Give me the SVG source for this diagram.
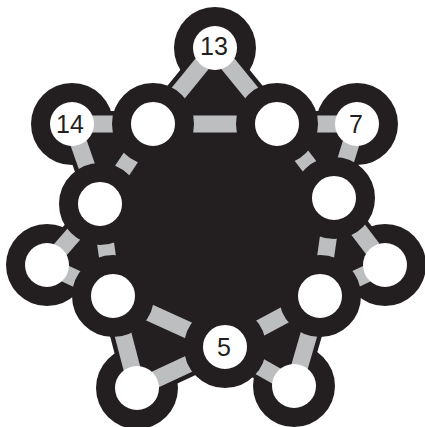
<svg xmlns="http://www.w3.org/2000/svg" width="425" height="427" viewBox="0 0 425 427">
<style>
.body{fill:#231f20;stroke:#231f20;stroke-width:26;stroke-linejoin:round}
.halo{fill:#231f20}
.edge{stroke:#bcbec0;stroke-width:17;fill:none}
.inner{fill:#ffffff;stroke:#231f20;stroke-width:19}
.face{fill:#ffffff}
.lbl{font-family:"Liberation Sans",Arial,sans-serif;font-size:25px;fill:#231f20;text-anchor:middle}
</style>
<rect width="425" height="427" fill="#ffffff"/>
<g id="backdrop">
<polygon class="body" points="215,48 277,124 357,124 334,198 385,265 320,296 294,386 225,347 137,388 113,296 47,265 100,204 72,124 153,124"/>
<circle class="halo" cx="215" cy="48" r="41"/>
<circle class="halo" cx="72" cy="124" r="41"/>
<circle class="halo" cx="357" cy="124" r="41"/>
<circle class="halo" cx="385" cy="265" r="41"/>
<circle class="halo" cx="294" cy="386" r="41"/>
<circle class="halo" cx="137" cy="388" r="41"/>
<circle class="halo" cx="47" cy="265" r="41"/>
</g>
<g id="connectors">
<line class="edge" x1="215" y1="48" x2="153" y2="124"/>
<line class="edge" x1="215" y1="48" x2="277" y2="124"/>
<line class="edge" x1="153" y1="124" x2="277" y2="124"/>
<line class="edge" x1="72" y1="124" x2="153" y2="124"/>
<line class="edge" x1="72" y1="124" x2="100" y2="204"/>
<line class="edge" x1="153" y1="124" x2="100" y2="204"/>
<line class="edge" x1="357" y1="124" x2="277" y2="124"/>
<line class="edge" x1="357" y1="124" x2="334" y2="198"/>
<line class="edge" x1="277" y1="124" x2="334" y2="198"/>
<line class="edge" x1="385" y1="265" x2="334" y2="198"/>
<line class="edge" x1="385" y1="265" x2="320" y2="296"/>
<line class="edge" x1="334" y1="198" x2="320" y2="296"/>
<line class="edge" x1="294" y1="386" x2="320" y2="296"/>
<line class="edge" x1="294" y1="386" x2="225" y2="347"/>
<line class="edge" x1="320" y1="296" x2="225" y2="347"/>
<line class="edge" x1="137" y1="388" x2="225" y2="347"/>
<line class="edge" x1="137" y1="388" x2="113" y2="296"/>
<line class="edge" x1="113" y1="296" x2="225" y2="347"/>
<line class="edge" x1="47" y1="265" x2="113" y2="296"/>
<line class="edge" x1="47" y1="265" x2="100" y2="204"/>
<line class="edge" x1="100" y1="204" x2="113" y2="296"/>
</g>
<g id="node-in-tl"><circle class="inner" cx="153" cy="124" r="31.5"/></g>
<g id="node-in-tr"><circle class="inner" cx="277" cy="124" r="31.5"/></g>
<g id="node-in-r"><circle class="inner" cx="334" cy="198" r="31.5"/></g>
<g id="node-in-br"><circle class="inner" cx="320" cy="296" r="31.5"/></g>
<g id="node-5"><circle class="inner" cx="225" cy="347" r="31.5"/><text class="lbl" x="224" y="356">5</text></g>
<g id="node-in-bl"><circle class="inner" cx="113" cy="296" r="31.5"/></g>
<g id="node-in-l"><circle class="inner" cx="100" cy="204" r="31.5"/></g>
<g id="node-13"><circle class="face" cx="215" cy="48" r="22"/><text class="lbl" x="214" y="55">13</text></g>
<g id="node-14"><circle class="face" cx="72" cy="124" r="22"/><text class="lbl" x="70" y="133">14</text></g>
<g id="node-7"><circle class="face" cx="357" cy="124" r="22"/><text class="lbl" x="356" y="133">7</text></g>
<g id="node-out-r"><circle class="face" cx="385" cy="265" r="22"/></g>
<g id="node-out-br"><circle class="face" cx="294" cy="386" r="22"/></g>
<g id="node-out-bl"><circle class="face" cx="137" cy="388" r="22"/></g>
<g id="node-out-l"><circle class="face" cx="47" cy="265" r="22"/></g>
</svg>
